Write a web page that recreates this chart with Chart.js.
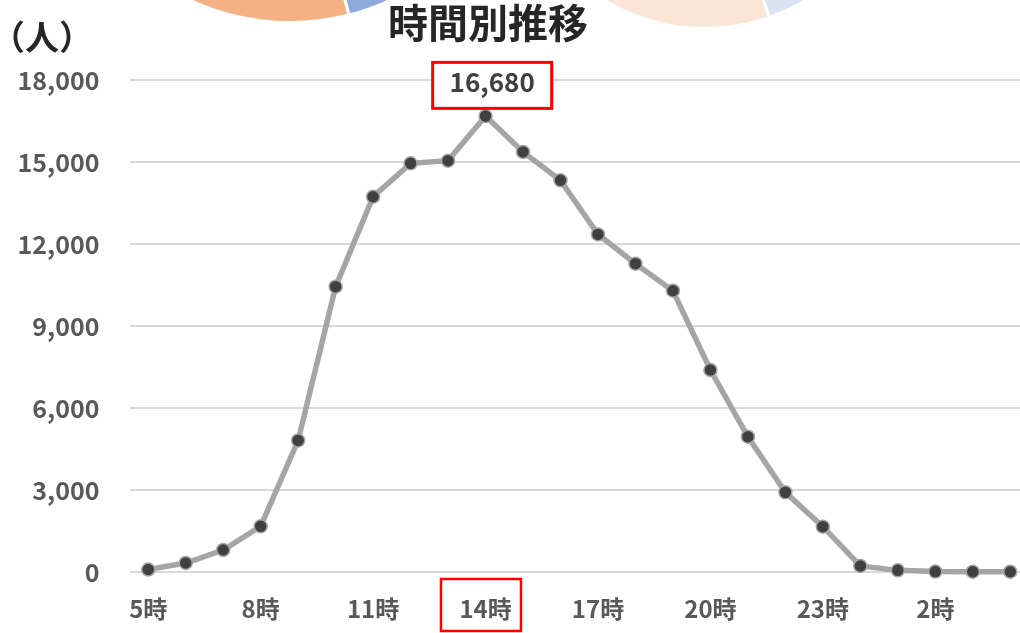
<!DOCTYPE html>
<html><head><meta charset="utf-8">
<script src="https://cdn.jsdelivr.net/npm/chart.js@4.4.1/dist/chart.umd.min.js"></script>
<style>
html,body{margin:0;padding:0;width:1020px;height:633px;overflow:hidden;background:#fff;}
#wrap{position:relative;width:1020px;height:633px;overflow:hidden;}
canvas{position:absolute;}
#title{position:absolute;left:288px;top:-4px;width:400px;text-align:center;font-family:"Noto Sans CJK JP";font-weight:bold;font-size:40px;color:#262626;line-height:50px;white-space:nowrap;z-index:5;}
#unit{position:absolute;left:-9px;top:13px;font-family:"Noto Sans CJK JP";font-weight:bold;font-size:34px;color:#262626;line-height:46px;white-space:nowrap;z-index:5;}
</style></head>
<body><div id="wrap">
<canvas id="d1" width="476" height="476" style="left:52px;top:-452px;width:476px;height:476px"></canvas>
<canvas id="d2" width="390" height="390" style="left:510px;top:-360px;width:390px;height:390px"></canvas>
<canvas id="c" width="1029" height="633" style="left:0;top:0;width:1029px;height:633px"></canvas>
<div id="title">時間別推移</div>
<div id="unit">（人）</div>
</div>
<script>
const hours = ['5時','6時','7時','8時','9時','10時','11時','12時','13時','14時','15時','16時','17時','18時','19時','20時','21時','22時','23時','0時','1時','2時','3時','4時'];
const visitors = [90,330,805,1670,4815,10440,13730,14950,15050,16680,15370,14330,12350,11280,10290,7390,4950,2915,1660,220,60,15,10,10];
const yTicks = [0,3000,6000,9000,12000,15000,18000];
const leftDonutValues = [46,54];
const rightDonutValues = [44.6,55.4];

const FONT = '"Noto Sans CJK JP", sans-serif';

function donut(id, values, colors){
  new Chart(document.getElementById(id), {
    type:'doughnut',
    data:{datasets:[{data:values, backgroundColor:colors, borderColor:'#fff', borderWidth:3}]},
    options:{responsive:false, animation:false, events:[], cutout:'50%',
      plugins:{legend:{display:false}, tooltip:{enabled:false}}}
  });
}
donut('d1', leftDonutValues, ['#8FAADC','#F4B183']);
donut('d2', rightDonutValues, ['#DAE3F3','#FBE5D6']);

const peakPlugin = {
  id:'peak',
  afterDatasetsDraw(chart){
    const data = chart.data.datasets[0].data;
    const mi = data.indexOf(Math.max(...data));
    const pt = chart.getDatasetMeta(0).data[mi];
    const c = chart.ctx;
    c.save();
    const cx = pt.x + 6.6, cy = pt.y - 30.7;
    c.fillStyle = '#fff';
    c.fillRect(cx-59.5, cy-23, 119, 46);
    c.strokeStyle = '#FF0000';
    c.lineWidth = 3;
    c.strokeRect(cx-59.5, cy-23, 119, 46);
    c.fillStyle = '#404040';
    c.font = 'bold 26px ' + FONT;
    c.textAlign = 'center';
    c.textBaseline = 'middle';
    c.fillText(data[mi].toLocaleString('en-US'), cx, cy - 3);
    const xs = chart.scales.x;
    const tx = xs.getPixelForTick(mi);
    c.lineWidth = 2.5;
    c.strokeRect(tx - 44.6, xs.top + 7, 80, 52);
    c.restore();
  }
};

new Chart(document.getElementById('c'), {
  type:'line',
  data:{labels:hours, datasets:[{data:visitors, borderColor:'#A5A5A5', borderWidth:5.5,
    pointRadius:6.5, pointBackgroundColor:'#404040', pointBorderColor:'#A5A5A5', pointBorderWidth:1.5,
    tension:0, clip:false}]},
  options:{responsive:false, animation:false, events:[],
    layout:{autoPadding:false, padding:{top:80,left:0,right:0,bottom:0}},
    plugins:{legend:{display:false}, tooltip:{enabled:false}},
    scales:{
      x:{offset:true, grid:{display:false, drawTicks:false}, border:{display:false},
        ticks:{autoSkip:false, maxRotation:0, padding:22, color:'#595959',
          font:{family:FONT, size:24, weight:'bold'},
          callback:(v,i)=> i%3===0 ? hours[i] : ''},
        afterFit:s=>{s.height=61; s.paddingLeft=0; s.paddingRight=0;}},
      y:{min:0, max:18000,
        afterBuildTicks:s=>{s.ticks = yTicks.map(v=>({value:v}));},
        grid:{color:'#D9D9D9', lineWidth:2, drawTicks:false}, border:{display:false},
        ticks:{padding:30, color:'#595959', font:{family:FONT, size:25, weight:'bold'},
          callback:v=>Number(v).toLocaleString('en-US')},
        afterFit:s=>{s.width=129.5; s.paddingTop=0; s.paddingBottom=0;}}
    }
  },
  plugins:[peakPlugin]
});
</script>
</body></html>
